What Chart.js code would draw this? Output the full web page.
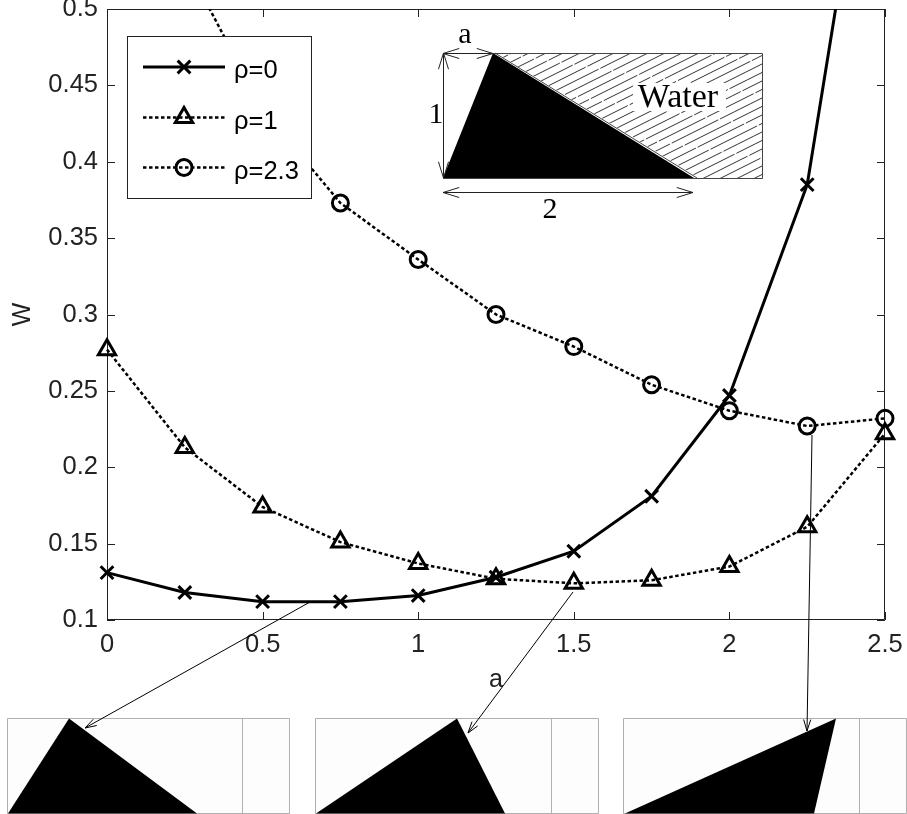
<!DOCTYPE html>
<html>
<head>
<meta charset="utf-8">
<style>
  html, body { margin: 0; padding: 0; background: #fff; }
  canvas { display: block; }
</style>
<script src="https://cdn.jsdelivr.net/npm/chart.js@4"></script>
</head>
<body>
<canvas id="myChart" width="907" height="814"></canvas>
<script>
const aValues = [0, 0.25, 0.5, 0.75, 1, 1.25, 1.5, 1.75, 2, 2.25, 2.5];
const rho0 = [0.131, 0.118, 0.112, 0.112, 0.116, 0.128, 0.145, 0.181, 0.247, 0.385, 0.70];
const rho1 = [0.277, 0.213, 0.174, 0.151, 0.137, 0.127, 0.124, 0.126, 0.135, 0.161, 0.222];
const rho23 = [0.66, 0.531, 0.434, 0.373, 0.336, 0.300, 0.279, 0.254, 0.237, 0.227, 0.232];
const xTicks = [0, 0.5, 1, 1.5, 2, 2.5];
const yTicks = [0.1, 0.15, 0.2, 0.25, 0.3, 0.35, 0.4, 0.45, 0.5];

const SANS = '"Liberation Sans", Arial, sans-serif';
const SERIF = '"Liberation Serif", "Times New Roman", serif';
const INK = '#222';

const toPoints = (vals) => vals.map((v, i) => ({x: aValues[i], y: v}));

const makeSeries = (label, vals, pointStyle, pointRadius, dash, width) => ({
  label,
  data: toPoints(vals),
  borderColor: '#000',
  backgroundColor: 'transparent',
  borderWidth: width,
  borderDash: dash,
  pointStyle,
  pointRadius,
  pointBorderWidth: 3,
  pointBorderColor: '#000',
  pointBackgroundColor: 'transparent',
  tension: 0,
  clip: {left: 14, right: 14, top: 0, bottom: 0}
});

// open V arrow head at the (x2,y2) end
const arrow = (ctx, x1, y1, x2, y2, head = 12, color = '#000') => {
  const ang = Math.atan2(y2 - y1, x2 - x1);
  ctx.strokeStyle = color;
  ctx.lineWidth = 1;
  ctx.beginPath();
  ctx.moveTo(x1, y1);
  ctx.lineTo(x2, y2);
  for (const d of [-0.3, 0.3]) {
    ctx.moveTo(x2, y2);
    ctx.lineTo(x2 - head * Math.cos(ang + d), y2 - head * Math.sin(ang + d));
  }
  ctx.stroke();
};

const label = (ctx, text, x, y, font, align = 'center') => {
  ctx.font = font;
  ctx.fillStyle = '#000';
  ctx.textAlign = align;
  ctx.textBaseline = 'alphabetic';
  ctx.fillText(text, x, y);
};

// small wedge snapshots under the plot
const drawSnapshot = (ctx, left, divider, right, tri) => {
  const top = 718.5, bottom = 813.5;
  ctx.fillStyle = '#fcfdfc';
  ctx.fillRect(left, top, right - left, bottom - top);
  ctx.strokeStyle = '#b0b0b0';
  ctx.lineWidth = 1;
  ctx.beginPath();
  ctx.rect(left + 0.5, top, right - left - 1, bottom - top);
  ctx.moveTo(divider + 0.5, top);
  ctx.lineTo(divider + 0.5, bottom);
  ctx.stroke();
  ctx.fillStyle = '#000';
  ctx.beginPath();
  ctx.moveTo(tri[0], bottom);
  ctx.lineTo(tri[1], top);
  ctx.lineTo(tri[2], bottom);
  ctx.closePath();
  ctx.fill();
};

// wedge sketch with the hatched water, top right of the plot
const drawSketch = (ctx) => {
  const l = 443, r = 762, t = 53, b = 178;
  ctx.save();
  ctx.beginPath();
  ctx.moveTo(496, t);
  ctx.lineTo(r, t);
  ctx.lineTo(r, b);
  ctx.lineTo(699, b);
  ctx.closePath();
  ctx.clip();
  ctx.strokeStyle = '#333';
  ctx.lineWidth = 1;
  ctx.setLineDash([52, 2]);
  for (let c = t - 160; c < b + 10; c += 8.5) {
    ctx.lineDashOffset = c * 1.7;
    ctx.beginPath();
    ctx.moveTo(r + 2, c);
    ctx.lineTo(l, c + (r + 2 - l) * 0.5);
    ctx.stroke();
  }
  ctx.restore();
  ctx.fillStyle = '#fff';
  ctx.fillRect(633, 83, 93, 28);
  ctx.fillStyle = '#000';
  ctx.beginPath();
  ctx.moveTo(443, b);
  ctx.lineTo(493, t);
  ctx.lineTo(694, b);
  ctx.closePath();
  ctx.fill();
  ctx.strokeStyle = '#444';
  ctx.lineWidth = 1;
  ctx.beginPath();
  ctx.moveTo(495, t);
  ctx.lineTo(697, b);
  ctx.moveTo(493, t + 0.5);
  ctx.lineTo(r + 0.5, t + 0.5);
  ctx.lineTo(r + 0.5, b + 0.5);
  ctx.lineTo(l, b + 0.5);
  ctx.stroke();
  arrow(ctx, 465, 53.5, 443, 53.5, 17, '#222');
  arrow(ctx, 465, 53.5, 493, 53.5, 17, '#222');
  arrow(ctx, 443.5, 115, 443.5, 53, 17, '#222');
  arrow(ctx, 443.5, 115, 443.5, 178, 17, '#222');
  arrow(ctx, 560, 192.5, 443, 192.5, 17, '#222');
  arrow(ctx, 560, 192.5, 693, 192.5, 17, '#222');
  label(ctx, 'a', 465, 43, '30px ' + SERIF);
  label(ctx, '1', 436, 123, '30px ' + SERIF);
  label(ctx, '2', 550, 218, '30px ' + SERIF);
  label(ctx, 'Water', 678, 107, '34px ' + SERIF);
};

const drawLegend = (chart, ctx) => {
  const left = 127.5, top = 36.5, w = 184, h = 162;
  const rows = [67, 117.5, 167.5];
  ctx.fillStyle = '#fff';
  ctx.fillRect(left, top, w, h);
  ctx.strokeStyle = INK;
  ctx.lineWidth = 1;
  ctx.strokeRect(left, top, w, h);
  chart.data.datasets.forEach((ds, i) => {
    const y = rows[i];
    ctx.strokeStyle = ds.borderColor;
    ctx.lineWidth = ds.borderWidth;
    ctx.setLineDash(ds.borderDash);
    ctx.beginPath();
    ctx.moveTo(143, y);
    ctx.lineTo(225, y);
    ctx.stroke();
    ctx.setLineDash([]);
    ctx.lineWidth = ds.pointBorderWidth;
    ctx.strokeStyle = ds.pointBorderColor;
    ctx.fillStyle = ds.pointBackgroundColor;
    Chart.helpers.drawPoint(ctx, {pointStyle: ds.pointStyle, radius: ds.pointRadius, rotation: 0, borderWidth: ds.pointBorderWidth}, 184, y);
    label(ctx, ds.label, 234, y + 11, '25.5px ' + SANS, 'left');
  });
};

const decorations = {
  id: 'decorations',
  beforeDatasetsDraw(chart) {
    const {ctx, chartArea: area, scales} = chart;
    ctx.save();
    ctx.strokeStyle = INK;
    ctx.lineWidth = 1;
    ctx.beginPath();
    ctx.rect(area.left + 0.5, area.top + 0.5, area.width - 1, area.height - 1);
    for (const v of xTicks) {
      const x = Math.round(scales.x.getPixelForValue(v)) + 0.5;
      ctx.moveTo(x, area.bottom);
      ctx.lineTo(x, area.bottom - 8);
      ctx.moveTo(x, area.top);
      ctx.lineTo(x, area.top + 8);
    }
    for (const v of yTicks) {
      const y = Math.round(scales.y.getPixelForValue(v)) + 0.5;
      ctx.moveTo(area.left, y);
      ctx.lineTo(area.left + 8, y);
      ctx.moveTo(area.right, y);
      ctx.lineTo(area.right - 8, y);
    }
    ctx.stroke();
    ctx.restore();
  },
  afterDatasetsDraw(chart) {
    const ctx = chart.ctx;
    ctx.save();
    drawLegend(chart, ctx);
    drawSketch(ctx);
    drawSnapshot(ctx, 7, 242, 290, [8, 69, 197]);
    drawSnapshot(ctx, 315, 551, 599, [316, 457, 505]);
    drawSnapshot(ctx, 623, 859, 907, [625, 836, 814]);
    arrow(ctx, 310, 602, 85, 728);
    arrow(ctx, 573, 592, 468, 733);
    arrow(ctx, 812, 435, 807, 731);
    ctx.restore();
  }
};

const noPadding = (s) => {
  s.paddingTop = s.paddingBottom = s.paddingLeft = s.paddingRight = 0;
};

const setup = () => {
  const ctxt = document.getElementById('myChart').getContext('2d');

  new Chart(ctxt, {
    type: 'line',
    data: {
      datasets: [
        makeSeries('ρ=0', rho0, 'crossRot', 9, [], 3),
        makeSeries('ρ=1', rho1, 'triangle', 10, [3.5, 2.5], 2.5),
        makeSeries('ρ=2.3', rho23, 'circle', 8, [3.5, 2.5], 2.5)
      ]
    },
    plugins: [decorations],
    options: {
      responsive: false,
      animation: false,
      layout: {
        autoPadding: false,
        padding: {left: 0, top: 9, right: 22, bottom: 0}
      },
      plugins: {
        legend: {display: false},
        tooltip: {enabled: false}
      },
      scales: {
        x: {
          type: 'linear',
          min: 0,
          max: 2.5,
          afterBuildTicks: (s) => { s.ticks = xTicks.map((value) => ({value})); },
          afterFit: (s) => { s.height = 194; noPadding(s); },
          grid: {display: false, drawTicks: false},
          border: {display: false},
          ticks: {
            maxRotation: 0,
            padding: 10,
            color: INK,
            font: {family: SANS, size: 25.5},
            callback: (v) => String(v)
          },
          title: {
            display: true,
            text: 'a',
            color: INK,
            font: {family: SANS, size: 25},
            padding: {top: 0, bottom: 119}
          }
        },
        y: {
          min: 0.1,
          max: 0.5,
          afterBuildTicks: (s) => { s.ticks = yTicks.map((value) => ({value})); },
          afterFit: (s) => { s.width = 107; noPadding(s); },
          grid: {display: false, drawTicks: false},
          border: {display: false},
          ticks: {
            padding: 9,
            color: INK,
            font: {family: SANS, size: 25.5},
            callback: (v) => String(v)
          },
          title: {
            display: true,
            text: 'W',
            color: INK,
            font: {family: SANS, size: 25},
            padding: {top: 8, bottom: 0}
          }
        }
      }
    }
  });
};

window.addEventListener('DOMContentLoaded', setup);
</script>
</body>
</html>
